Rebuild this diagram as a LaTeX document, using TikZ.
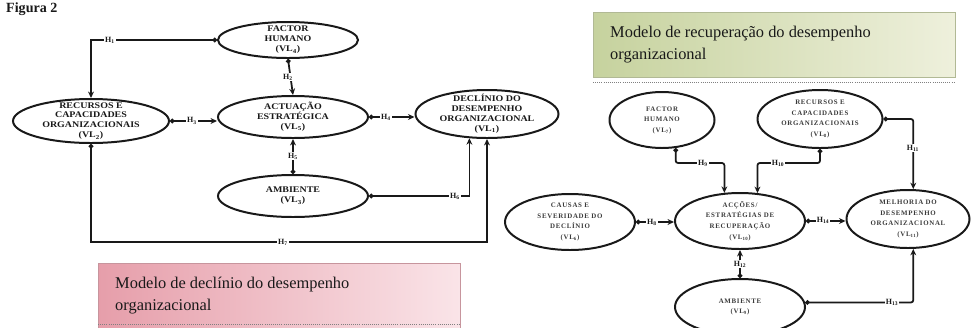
\documentclass[tikz,border=0pt]{standalone}
\usepackage{fontspec}
\setmainfont{Liberation Serif}
\newfontfamily\lfont{Liberation Serif}[FakeStretch=1.15]
\newfontfamily\rfont{Liberation Serif}[LetterSpace=10]
\usetikzlibrary{shapes.geometric,arrows.meta,calc}
\definecolor{pkA}{RGB}{230,158,170}
\definecolor{pkB}{RGB}{250,228,232}
\definecolor{grA}{RGB}{198,210,158}
\definecolor{grB}{RGB}{238,240,220}
\definecolor{ink}{RGB}{25,25,25}
\begin{document}
\begin{tikzpicture}[x=0.03cm,y=-0.03cm,
  ell/.style 2 args={ellipse,draw=ink,line width=1.7pt,minimum width=#1*0.03cm,minimum height=#2*0.03cm,inner sep=0pt},
  ltxt/.style={align=center,font=\lfont\fontsize{7.4}{8.5}\selectfont\bfseries,inner sep=0pt,text=ink},
  rtxt/.style={align=center,font=\rfont\fontsize{5.9}{9}\selectfont\bfseries,inner sep=0pt,text=ink!85},
  conn/.style={draw=ink,line width=1.5pt,{Circle[length=3.8pt]}-{Stealth[length=5.5pt,width=5pt]}},
  hl/.style={fill=white,inner sep=1pt,font=\fontsize{6.8}{7}\selectfont\bfseries,text=ink},
  captxt/.style={align=left,anchor=west,font=\fontsize{14}{18.7}\selectfont,inner sep=0pt,text=ink}
]
\useasboundingbox (0,0) rectangle (971,327);
\clip (0,0) rectangle (971,327);

% top caption
\node[anchor=base west,inner sep=0pt,font=\fontsize{12}{12}\selectfont\bfseries,text=ink] (fig) at (6,12) {Figura 2};

% caption boxes
\shade[left color=pkA,right color=pkB,draw=pkA!70!gray,line width=0.4pt] (98,263) rectangle (460,335);
\draw[densely dotted,gray,line width=0.8pt] (98,324) -- (460,324);
\node[captxt] (capl) at (115,296) {Modelo de declínio do desempenho\\organizacional};

\shade[left color=grA,right color=grB,draw=grA!70!gray,line width=0.4pt] (593,12) rectangle (955,77);
\draw[densely dotted,gray,line width=0.8pt] (593,82) -- (955,82);
\node[captxt] (capr) at (610,45) {Modelo de recuperação do desempenho\\organizacional};

% ---------- left model ----------
\node[ell={140}{36}] (fh) at (288,40) {};
\node[ltxt] (fht) at (fh) {FACTOR\\HUMANO\\(VL\textsubscript{4})};
\node[ell={150}{42}] (act) at (293,117) {};
\node[ltxt] (actt) at (act) {ACTUAÇÃO\\ESTRATÉGICA\\(VL\textsubscript{5})};
\node[ell={150}{42}] (amb) at (293,196) {};
\node[ltxt] (ambt) at (amb) {AMBIENTE\\(VL\textsubscript{3})};
\node[ell={156}{44}] (rec) at (91,121) {};
\node[ltxt] (rect) at (rec) {RECURSOS E\\CAPACIDADES\\ORGANIZACIONAIS\\(VL\textsubscript{2})};
\node[ell={143}{48}] (dec) at (487,114) {};
\node[ltxt] (dect) at (dec) {DECLÍNIO DO\\DESEMPENHO\\ORGANIZACIONAL\\(VL\textsubscript{1})};

\coordinate (b7) at (0,242);
\draw[conn] (fh.west) -| (rec.north);
\draw[conn] (fh.south) -- (act.north);
\draw[conn] (rec.east) -- (rec.east -| act.west);
\draw[conn] (act.east) -- (act.east -| dec.west);
\draw[conn] (amb.north) -- (act.south);
\draw[conn] (amb.east) -| (dec.-126);
\draw[conn] (rec.south) -- (rec.south |- b7) -| (dec.south);

\node[hl] (h1) at (110,40) {H\textsubscript{1}};
\node[hl] (h2) at (288,77) {H\textsubscript{2}};
\node[hl] (h3) at (192,121) {H\textsubscript{3}};
\node[hl] (h4) at (386,117) {H\textsubscript{4}};
\node[hl] (h5) at (293,156) {H\textsubscript{5}};
\node[hl] (h6) at (455,196) {H\textsubscript{6}};
\node[hl] (h7) at (283,242) {H\textsubscript{7}};

% ---------- right model ----------
\node[ell={105}{56}] (fh2) at (662,120) {};
\node[rtxt] (fh2t) at (fh2) {FACTOR\\HUMANO\\(VL\textsubscript{7})};
\node[ell={125}{58}] (rec2) at (820,119) {};
\node[rtxt] (rec2t) at (rec2) {RECURSOS E\\CAPACIDADES\\ORGANIZACIONAIS\\(VL\textsubscript{8})};
\node[ell={130}{56}] (cau) at (570,222) {};
\node[rtxt] (caut) at (cau) {CAUSAS E\\SEVERIDADE DO\\DECLÍNIO\\(VL\textsubscript{6})};
\node[ell={130}{56}] (acc) at (740,221) {};
\node[rtxt] (acct) at (acc) {ACÇÕES/\\ESTRATÉGIAS DE\\RECUPERAÇÃO\\(VL\textsubscript{10})};
\node[ell={123}{58}] (mel) at (908,219) {};
\node[rtxt] (melt) at (mel) {MELHORIA DO\\DESEMPENHO\\ORGANIZACIONAL\\(VL\textsubscript{11})};
\node[ell={130}{56}] (amb2) at (740,307) {};
\node[rtxt] (amb2t) at (amb2) {AMBIENTE\\(VL\textsubscript{9})};

\coordinate (k1) at (0,163);
\draw[conn,rounded corners=2pt] (fh2.-64) |- (acc.119 |- k1) -- (acc.119);
\draw[conn,rounded corners=2pt] (rec2.south) |- (acc.58 |- k1) -- (acc.58);
\draw[conn,rounded corners=2pt] (rec2.east) -| (mel.80);
\draw[conn] (cau.east) -- (cau.east -| acc.west);
\draw[conn] (acc.east) -- (acc.east -| mel.west);
\draw[conn] (amb2.north) -- (acc.south);
\draw[conn,rounded corners=2pt] (amb2.4) -| (mel.-80);

\node[hl] (h9) at (703,163) {H\textsubscript{9}};
\node[hl] (h10) at (778,163) {H\textsubscript{10}};
\node[hl] (h11) at (913,148) {H\textsubscript{11}};
\node[hl] (h8) at (652,222) {H\textsubscript{8}};
\node[hl] (h14) at (823,220) {H\textsubscript{14}};
\node[hl] (h12) at (740,264) {H\textsubscript{12}};
\node[hl] (h13) at (892,302) {H\textsubscript{13}};
\end{tikzpicture}
\end{document}
